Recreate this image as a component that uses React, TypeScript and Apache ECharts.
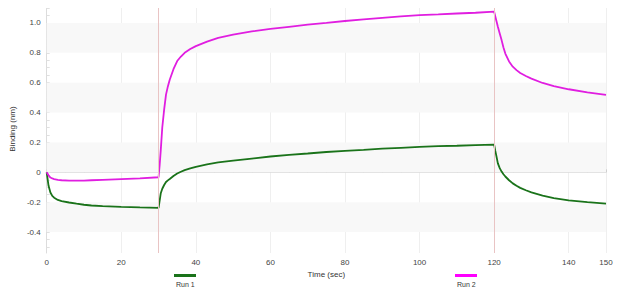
import React, { useEffect, useRef } from "react";
import * as echarts from "echarts";

const times = [0, 0.5, 1, 1.5, 2, 3, 4, 6, 8, 10, 12, 15, 20, 25, 30, 30.3, 30.6, 31, 31.5, 32, 32.5, 33, 34, 35, 36, 37, 38.5, 40, 43, 46, 50, 55, 60, 65, 70, 75, 80, 85, 90, 95, 100, 105, 110, 115, 120, 120.3, 120.6, 121, 121.5, 122, 122.5, 123, 124, 125, 126, 127, 128.5, 130, 133, 136, 140, 145, 150];

const run1 = [0, -0.09, -0.135, -0.158, -0.17, -0.185, -0.193, -0.202, -0.21, -0.217, -0.222, -0.226, -0.231, -0.235, -0.238, -0.19, -0.14, -0.11, -0.085, -0.065, -0.054, -0.045, -0.025, -0.008, 0.004, 0.015, 0.027, 0.037, 0.053, 0.066, 0.078, 0.092, 0.106, 0.117, 0.126, 0.136, 0.143, 0.15, 0.158, 0.164, 0.17, 0.175, 0.178, 0.182, 0.185, 0.145, 0.11, 0.06, 0.028, 0.005, -0.013, -0.028, -0.053, -0.074, -0.09, -0.104, -0.12, -0.134, -0.156, -0.172, -0.188, -0.2, -0.21];

const run2 = [0, -0.02, -0.035, -0.041, -0.045, -0.05, -0.053, -0.055, -0.056, -0.055, -0.053, -0.05, -0.045, -0.04, -0.033, 0.05, 0.15, 0.3, 0.42, 0.52, 0.575, 0.62, 0.69, 0.745, 0.775, 0.8, 0.825, 0.845, 0.875, 0.9, 0.922, 0.943, 0.96, 0.974, 0.988, 1.0, 1.013, 1.024, 1.034, 1.044, 1.052, 1.057, 1.063, 1.068, 1.075, 1.045, 1.015, 0.975, 0.93, 0.885, 0.835, 0.795, 0.742, 0.707, 0.684, 0.665, 0.645, 0.627, 0.598, 0.577, 0.556, 0.535, 0.518];

const seriesNames = ["Run 1", "Run 2"];
const yTicks = [-0.4, -0.2, 0, 0.2, 0.4, 0.6, 0.8, 1.0];
const bands = [[0.8, 1.0], [0.4, 0.6], [0, 0.2], [-0.4, -0.2]];
const phaseMarks = [30, 120];

const FONT = "'Liberation Sans', Arial, sans-serif";

export default function App() {
  const ref = useRef<HTMLDivElement>(null);
  useEffect(() => {
    const chart = echarts.init(ref.current!, null, { renderer: "svg" });
    const minorY: number[] = [];
    for (let i = -10; i <= 22; i++) minorY.push(Math.round(i * 0.05 * 100) / 100);
    chart.setOption({
      animation: false,
      grid: { left: 44, right: 34, top: 5, bottom: 39 },
      xAxis: [
        {
          type: "value",
          min: 0,
          max: 150,
          interval: 20,
          name: "Time (sec)",
          nameLocation: "middle",
          nameGap: 13,
          nameTextStyle: { fontFamily: FONT, fontSize: 8, color: "#333" },
          axisLine: { show: true, lineStyle: { color: "#dcdcdc" } },
          axisTick: { show: true, inside: true, length: 3, lineStyle: { color: "#d0d0d0" } },
          minorTick: { show: true, splitNumber: 4, length: 3, lineStyle: { color: "#d0d0d0" } },
          axisLabel: { fontFamily: FONT, fontSize: 8, color: "#444", margin: 5 },
          splitLine: { show: true, lineStyle: { color: "#efefef" } },
        },
        {
          type: "value",
          position: "top",
          min: 0,
          max: 150,
          interval: 20,
          axisLine: { show: true, lineStyle: { color: "#e6e6e6" } },
          axisTick: { show: false },
          axisLabel: { show: false },
          splitLine: { show: false },
        },
      ],
      yAxis: {
        type: "value",
        min: -0.54,
        max: 1.12,
        name: "Binding (nm)",
        nameLocation: "middle",
        nameGap: 18,
        nameTextStyle: { fontFamily: FONT, fontSize: 8, color: "#333" },
        axisLine: { show: true, lineStyle: { color: "#dcdcdc" } },
        axisTick: { show: true, inside: true, length: 3, customValues: minorY, lineStyle: { color: "#e0e0e0" } },
        axisLabel: {
          customValues: yTicks,
          fontFamily: FONT,
          fontSize: 8,
          color: "#444",
          margin: 6,
          formatter: (v: number) => (Math.abs(v) < 1e-9 ? "0" : v.toFixed(1)),
        },
        splitLine: { show: false },
        splitArea: { show: false },
      },
      series: [
        {
          type: "line",
          name: "bands",
          data: [],
          z: 1,
          silent: true,
          markArea: {
            silent: true,
            itemStyle: { color: "#f8f8f8" },
            data: bands.map((b) => [{ yAxis: b[0] }, { yAxis: b[1] }]),
          },
          markLine: {
            silent: true,
            symbol: "none",
            label: { show: false },
            lineStyle: { color: "#e9c4c4", type: "solid", width: 1, opacity: 1 },
            data: phaseMarks.map((x) => ({ xAxis: x })),
          },
        },
        {
          type: "line",
          name: seriesNames[0],
          data: times.map((t, i) => [t, run1[i]]),
          showSymbol: false,
          z: 3,
          lineStyle: { color: "#1a731a", width: 1.8 },
          itemStyle: { color: "#1a731a" },
        },
        {
          type: "line",
          name: seriesNames[1],
          data: times.map((t, i) => [t, run2[i]]),
          showSymbol: false,
          z: 3,
          lineStyle: { color: "#e01ee0", width: 1.8 },
          itemStyle: { color: "#e01ee0" },
        },
      ],
      graphic: [
        { type: "rect", left: 174, top: 274, shape: { width: 22, height: 3 }, style: { fill: "#1a731a" } },
        { type: "text", left: 176, top: 281, style: { text: seriesNames[0], font: `7px ${FONT}`, fill: "#333" } },
        { type: "rect", left: 455, top: 274, shape: { width: 22, height: 3 }, style: { fill: "#ff00ff" } },
        { type: "text", left: 457, top: 281, style: { text: seriesNames[1], font: `7px ${FONT}`, fill: "#333" } },
      ],
    });
    return () => chart.dispose();
  }, []);
  return <div ref={ref} style={{ width: 640, height: 292, margin: "-8px 0 0 -8px" }} />;
}
